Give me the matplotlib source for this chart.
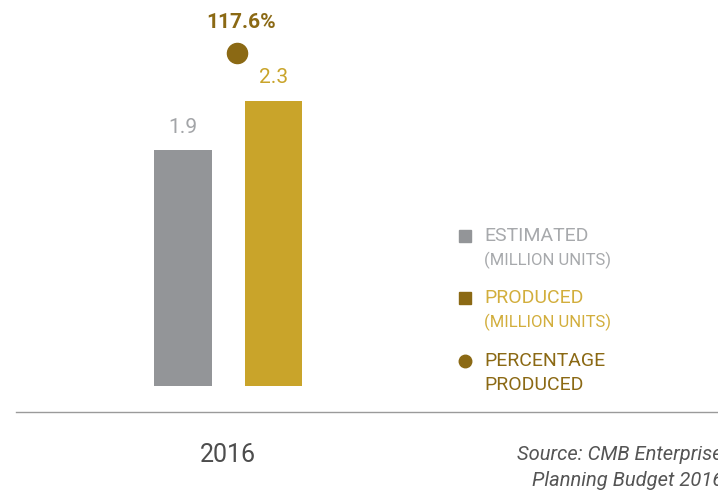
import matplotlib.pyplot as plt
from matplotlib.lines import Line2D

series = ["ESTIMATED", "PRODUCED"]
values = [1.9, 2.3]
pct_produced = 117.6
year = "2016"
source_lines = ["Source: CMB Enterprise", "Planning Budget 2016"]

GRAY = "#939598"
GOLD = "#C9A42A"
DARK_GOLD = "#8B6914"

plt.rcParams["font.family"] = ["Roboto", "DejaVu Sans"]

W, H = 718, 495
fig = plt.figure(figsize=(W / 100, H / 100), dpi=100)


def fx(px):
    return px / W


def fy(py):
    return 1 - py / H


# bars: full-figure axes, limits set so that bar positions land where wanted
ax = fig.add_axes([0, 0, 1, 1])
ax.set_xlim(-183 / 90.5, (W - 183) / 90.5)
ax.set_ylim(-(H - 386) / 124, 386 / 124)
ax.axis("off")

bars = ax.bar([0, 1], values, width=0.64, color=[GRAY, GOLD])
label_cols = ["#A3A5A8", GOLD]
for b, v, c in zip(bars, values, label_cols):
    ax.annotate(f"{v:.1f}", (b.get_x() + b.get_width() / 2, v),
                xytext=(0, 10), textcoords="offset points",
                ha="center", va="bottom", fontsize=15, color=c)

# percentage dot on its own scale
ax2 = ax.twinx()
ax2.set_ylim(-(H - 386) / 2.83, 386 / 2.83)
ax2.axis("off")
ax2.scatter([0.6], [pct_produced], s=210, color=DARK_GOLD, zorder=3)
ax2.annotate(f"{pct_produced:.1f}%", (0.6, pct_produced), xytext=(3, 15),
             textcoords="offset points", ha="center", va="bottom",
             fontsize=15, fontweight="bold", color=DARK_GOLD)

# baseline under the bars
fig.add_artist(Line2D([fx(16), fx(W)], [fy(412), fy(412)],
                      color="#9A9A9A", lw=1))

fig.text(fx(228), fy(455), year, ha="center", va="center",
         fontsize=18, color="#4D4D4D")

for i, line in enumerate(source_lines):
    fig.text(fx(723), fy(455 + i * 25), line, ha="right", va="center",
             fontsize=14.5, style="italic", color="#555555")

# legend
legend_items = [
    ("s", GRAY, "ESTIMATED", "#A7A9AC", "(MILLION UNITS)", 236),
    ("s", DARK_GOLD, "PRODUCED", "#D2AE3C", "(MILLION UNITS)", 298),
    ("o", DARK_GOLD, "PERCENTAGE", DARK_GOLD, "PRODUCED", 361),
]
for mk, mcol, top, tcol, sub, py in legend_items:
    fig.add_artist(Line2D([fx(465)], [fy(py)], marker=mk, markersize=9,
                          color=mcol, linestyle="none"))
    fig.text(fx(484), fy(py), top, ha="left", va="center", fontsize=14,
             color=tcol)
    sub_size = 14 if sub == "PRODUCED" else 12
    fig.text(fx(484), fy(py + 24), sub, ha="left", va="center",
             fontsize=sub_size, color=tcol)

fig.savefig("out.png", dpi=100)
